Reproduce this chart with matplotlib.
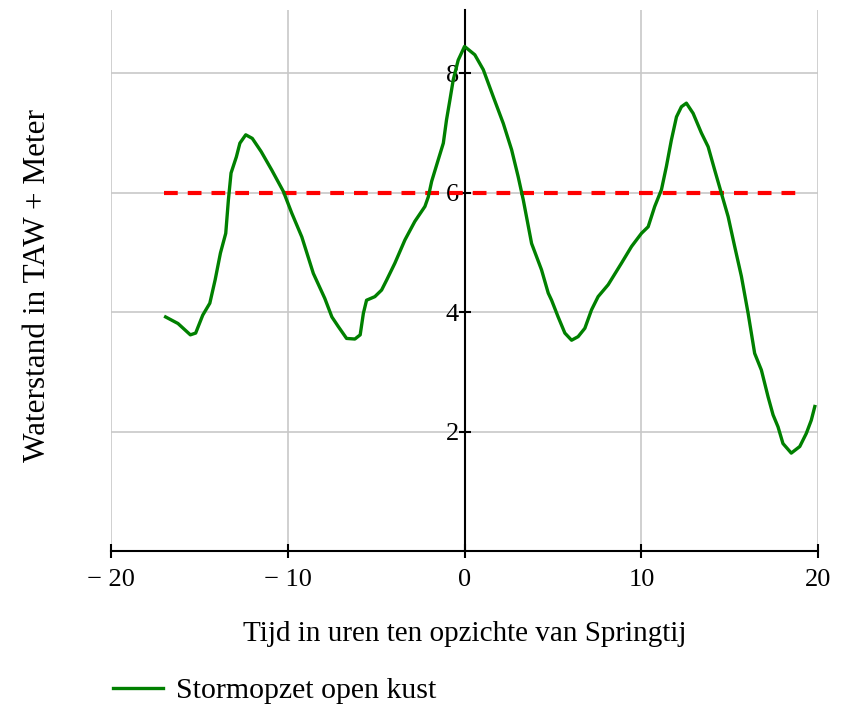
import matplotlib
matplotlib.use("Agg")
import matplotlib.pyplot as plt
from matplotlib.lines import Line2D

# time relative to spring tide (hours) and water level (m TAW)
tijd = [-16.9, -16.2, -15.5, -15.2, -14.8, -14.4, -14.1, -13.8, -13.5, -13.35,
        -13.2, -12.9, -12.7, -12.37, -12.0, -11.5, -10.9, -10.24, -9.77, -9.2,
        -8.55, -7.9, -7.5, -7.14, -6.67, -6.2, -5.9, -5.72, -5.54, -5.07,
        -4.69, -4.4, -3.94, -3.37, -2.81, -2.24, -2.05, -1.86, -1.49, -1.2,
        -1.02, -0.83, -0.64, -0.36, 0.0, 0.58, 1.06, 1.62, 2.19, 2.66,
        3.03, 3.32, 3.79, 4.35, 4.73, 4.92, 5.29, 5.67, 6.05, 6.42,
        6.8, 7.18, 7.55, 8.12, 8.87, 9.44, 10.0, 10.38, 10.75, 11.13,
        11.41, 11.69, 11.98, 12.26, 12.54, 12.92, 13.39, 13.77, 14.14, 14.52,
        14.9, 15.27, 15.65, 16.03, 16.4, 16.78, 17.16, 17.44, 17.72, 18.0,
        18.47, 18.95, 19.32, 19.6, 19.8]
waterstand = [3.92, 3.81, 3.62, 3.65, 3.95, 4.15, 4.54, 4.99, 5.32, 5.88,
              6.33, 6.6, 6.83, 6.97, 6.91, 6.69, 6.38, 6.02, 5.66, 5.26,
              4.65, 4.23, 3.92, 3.76, 3.56, 3.55, 3.62, 3.98, 4.2, 4.26,
              4.37, 4.54, 4.82, 5.21, 5.52, 5.77, 5.93, 6.19, 6.55, 6.83,
              7.22, 7.55, 7.89, 8.22, 8.45, 8.31, 8.06, 7.61, 7.16, 6.72,
              6.27, 5.88, 5.15, 4.71, 4.32, 4.2, 3.92, 3.65, 3.53, 3.59,
              3.73, 4.04, 4.26, 4.46, 4.82, 5.1, 5.32, 5.43, 5.77, 6.05,
              6.44, 6.88, 7.27, 7.44, 7.5, 7.33, 7.0, 6.77, 6.38, 5.99,
              5.6, 5.1, 4.6, 3.98, 3.31, 3.03, 2.58, 2.28, 2.08, 1.8,
              1.64, 1.75, 1.97, 2.19, 2.42]

# dike crest reference level
grens_x = [-17.0, 18.8]
grens_y = [6.0, 6.0]

xticks = [-20, -10, 0, 10, 20]
xticklabels = ["\u2212 20", "\u2212 10", "0", "10", "20"]
yticks = [2, 4, 6, 8]

plt.rcParams['font.family'] = ['Liberation Serif', 'DejaVu Serif']

fig = plt.figure(figsize=(8.52, 7.04), dpi=100)
ax = fig.add_axes([0.13, 0.2173, 0.8305, 0.7685])

ax.plot(grens_x, grens_y, color='#ff0000', lw=3.0, dashes=(3.3, 2.4), zorder=3)
ax.plot(tijd, waterstand, color='#008000', lw=2.4, zorder=4)

ax.set_xlim(-20, 20)
ax.set_ylim(0, 9.06)
ax.set_xticks(xticks)
ax.set_xticklabels(xticklabels)
ax.set_yticks(yticks)

ax.grid(True, color='#c8c8c8', lw=1.2)
ax.set_axisbelow(True)

for s in ('top', 'right'):
    ax.spines[s].set_visible(False)
ax.spines['left'].set_position(('data', 0))
ax.spines['left'].set_linewidth(1.5)
ax.spines['bottom'].set_linewidth(1.5)
ax.spines['left'].set_zorder(2)

ax.tick_params(axis='x', direction='inout', length=10, width=1.5, labelsize=19, pad=8)
ax.tick_params(axis='y', direction='inout', length=8, width=1.5, labelsize=19, pad=0)

ax.set_xlabel("Tijd in uren ten opzichte van Springtij", fontsize=21, va='center')
ax.xaxis.set_label_coords(0.5, -0.154)
ax.set_ylabel("Waterstand in TAW + Meter", fontsize=22.5, va='center')
ax.yaxis.set_label_coords(-0.104, 0.49)

handle = Line2D([], [], color='#008000', lw=2.4)
fig.legend([handle], ["Stormopzet open kust"], loc='center left',
           bbox_to_anchor=(113 / 852, 1 - 691 / 704), frameon=False,
           fontsize=21.5, handlelength=1.67, handletextpad=0.43,
           borderpad=0, borderaxespad=0)

fig.savefig("out.png", dpi=100)
